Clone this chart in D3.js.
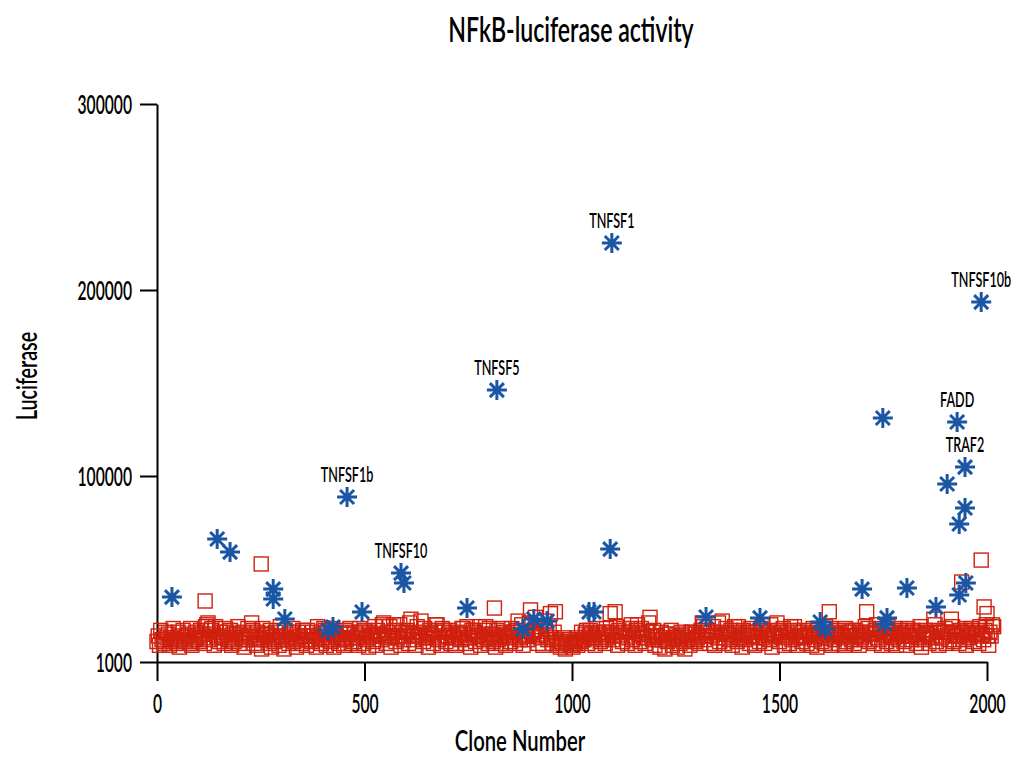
<!DOCTYPE html>
<html>
<head>
<meta charset="utf-8">
<script src="https://cdn.jsdelivr.net/npm/d3@7"></script>
<style>
  body { margin: 0; background: #fff; }
  text { font-family: Lato, "Open Sans", sans-serif; font-weight: 600; fill: #000; }
</style>
</head>
<body>
<div id="chart"></div>
<script>
// tick labels
var xTicks = [0, 500, 1000, 1500, 2000];
var yTicks = [0, 100000, 200000, 300000];
var yTickLabels = ["1000", "100000", "200000", "300000"];

// red squares: bulk of the screen, values in thousands, read every 6 clones
// lower pass at clones 0, 6, 12 ...
var redStep = 6;
var redValuesK = [
  11,9,12,10,13,9,11,12,10,8,12,11,14,10,9,12,13,11,15,10,
  20,12,18,9,14,11,13,10,16,12,9,11,15,10,13,8,12,14,21,10,
  9,13,7,12,15,10,8,11,14,9,12,7,13,10,16,11,8,12,10,14,
  9,12,11,14,8,13,10,18,9,12,11,8,14,10,13,9,12,15,10,11,
  13,9,16,10,12,8,14,11,9,15,12,21,10,13,8,20,11,14,9,12,
  16,10,23,12,9,14,22,11,13,8,15,10,20,12,9,17,11,14,10,13,
  9,15,12,18,10,13,8,17,11,14,9,12,19,10,13,11,8,12,10,14,
  9,13,11,16,10,22,12,9,14,12,28,15,24,10,13,9,18,12,26,10,
  27,9,8,10,7,11,9,8,10,9,11,12,15,10,17,13,9,16,11,14,
  10,13,26,12,27,9,14,11,16,10,18,12,9,20,11,15,10,13,24,12,
  9,14,8,12,7,11,15,9,13,8,10,14,7,12,9,16,11,13,10,21,
  12,16,10,14,9,13,11,22,10,15,12,9,19,11,13,8,12,16,10,14,
  9,13,11,20,10,15,12,8,14,21,11,13,9,16,10,12,19,9,14,11,
  13,10,15,9,12,8,14,11,10,13,27,9,12,15,10,14,9,11,16,12,
  10,14,9,13,12,27,11,15,10,20,12,9,14,11,16,10,13,9,12,15,
  11,9,14,12,16,10,13,8,12,15,10,14,23,11,9,13,16,10,12,23,
  11,14,10,16,12,9,13,18,11,15,10,14,12,20,9,14,19
];
// upper pass at clones 3, 9, 15 ...
var redValuesK2 = [
  14,17,12,16,15,13,18,12,16,14,17,13,15,18,12,16,14,17,13,19,
  21,17,15,19,13,16,14,18,12,17,15,13,19,14,16,12,18,15,17,13,
  16,12,18,14,15,17,13,16,12,19,14,17,12,15,18,13,16,14,17,12,
  17,14,16,12,19,15,13,17,16,12,18,15,13,16,12,17,15,18,13,16,
  14,18,15,17,13,16,14,19,17,15,20,14,16,19,14,17,13,20,16,14,
  17,21,15,14,19,16,13,18,15,17,14,16,20,13,18,16,14,17,15,13,
  16,14,18,15,19,13,17,16,14,19,15,17,13,18,15,14,17,13,18,16,
  15,14,18,16,17,13,20,15,14,21,16,17,14,19,15,22,14,18,13,16,
  12,10,11,13,10,12,9,11,13,12,16,12,17,14,15,13,18,15,12,16,
  18,15,16,14,19,17,15,18,13,16,20,14,17,15,18,13,16,21,14,17,
  14,12,16,13,15,12,17,13,14,12,16,11,15,13,16,12,15,14,17,19,
  14,17,16,19,15,21,16,13,18,15,17,14,16,19,13,17,15,14,18,16,
  16,14,18,17,13,16,20,15,14,17,16,18,14,15,19,17,13,16,14,17,
  14,16,15,18,14,17,13,16,19,15,18,16,14,17,15,13,18,16,14,17,
  17,15,16,14,19,18,16,15,17,13,18,15,16,19,14,16,18,15,17,14,
  16,18,14,17,15,16,19,14,17,15,16,13,20,17,16,14,18,16,15,19,
  16,14,17,15,18,16,14,17,15,16,19,15,17,14,16,20
];
// red squares standing above the bulk
var redHighClones = [116, 251, 813, 1939, 1986, 1993, 2000];
var redHighValues = [32800, 52700, 29000, 43000, 54800, 29600, 26000];

// blue asterisks
var blueClones = [36, 145, 176, 280, 280, 308, 412, 424, 458, 494,
  588, 595, 747, 819, 882, 908, 940, 1041, 1053, 1092,
  1096, 1323, 1453, 1598, 1610, 1699, 1749, 1759, 1754, 1807,
  1877, 1904, 1928, 1933, 1933, 1947, 1947, 1949, 1986];
var blueValues = [34900, 66100, 59100, 39200, 33900, 23100, 17200, 18800, 88700, 26900,
  47800, 42500, 29000, 146200, 17700, 23100, 22000, 26900, 26900, 60700,
  225300, 24200, 23700, 21500, 17700, 39200, 131200, 23700, 20400, 39800,
  29600, 95700, 129000, 74200, 36000, 104800, 82800, 42500, 193500];

// gene names and the asterisk they sit over
var labelNames = ["TNFSF1b", "TNFSF10", "TNFSF5", "TNFSF1", "TNFSF10b", "FADD", "TRAF2"];
var labelPoint = [8, 10, 13, 20, 38, 32, 35];

var svgWidth = 1018, svgHeight = 757;
var red = "#d0200e", blue = "#1a56a3";

var svg = d3.select("#chart").append("svg")
  .attr("width", svgWidth)
  .attr("height", svgHeight);

var x = d3.scaleLinear().domain([0, 2000]).range([157, 987]);
var y = d3.scaleLinear().domain([0, 300000]).range([662, 104]);

// narrow text helper
function addText(px, py, str, size, squeeze, rot) {
  return svg.append("text")
    .attr("transform", "translate(" + px + "," + py + ")" + (rot ? " rotate(" + rot + ")" : "") + " scale(" + squeeze + ",1)")
    .attr("text-anchor", "middle")
    .style("font-size", size + "px")
    .text(str);
}

// axes
var yAxis = d3.axisLeft(y).tickValues(yTicks).tickSize(17).tickSizeOuter(0)
  .tickFormat(function(d, i) { return yTickLabels[i]; });
var xAxis = d3.axisBottom(x).tickValues(xTicks).tickSize(19).tickSizeOuter(0)
  .tickFormat(d3.format("d"));

var gy = svg.append("g").attr("transform", "translate(157,0)").call(yAxis);
var gx = svg.append("g").attr("transform", "translate(0,662)").call(xAxis);

[gx, gy].forEach(function(g) {
  g.selectAll("path, line").attr("stroke", "#000").attr("stroke-width", 2);
  g.selectAll("text").attr("fill", "#000").style("font-size", "27px")
    .style("font-family", "Lato, 'Open Sans', sans-serif").style("font-weight", 600);
});
gy.selectAll("text").attr("x", 0).attr("dy", "0.36em")
  .attr("transform", "translate(-25,0) scale(0.58,1)");
gx.selectAll("text").attr("y", 0).attr("dy", 0)
  .attr("transform", "translate(0,51) scale(0.58,1)");

// red squares
var redData = redValuesK.map(function(v, i) { return { c: i * redStep, v: v * 1000 }; })
  .concat(redValuesK2.map(function(v, i) { return { c: i * redStep + 3, v: v * 1000 }; }))
  .sort(function(a, b) { return a.c - b.c; })
  .concat(redHighClones.map(function(c, i) { return { c: c, v: redHighValues[i] }; }));

svg.append("g").selectAll("rect")
  .data(redData)
  .enter()
  .append("rect")
  .attr("x", d => x(d.c) - 7)
  .attr("y", d => y(d.v) - 7)
  .attr("width", 14)
  .attr("height", 14)
  .attr("fill", "none")
  .attr("stroke", red)
  .attr("stroke-width", 1.4);

// blue asterisks
var star = "M-10,0H10M0,-10V10M-7,-7L7,7M-7,7L7,-7";
svg.append("g").selectAll("path")
  .data(blueClones)
  .enter()
  .append("path")
  .attr("transform", (d, i) => "translate(" + x(d) + "," + y(blueValues[i]) + ")")
  .attr("d", star)
  .attr("stroke", blue)
  .attr("stroke-width", 3)
  .attr("fill", "none");

// gene labels
labelNames.forEach(function(name, i) {
  var k = labelPoint[i];
  addText(x(blueClones[k]), y(blueValues[k]) - 15, name, 21, 0.6);
});

// titles
addText(571, 42, "NFkB-luciferase  activity", 35, 0.66);
addText(520, 751, "Clone Number", 29, 0.7);
addText(37, 376, "Luciferase", 29, 0.68, -90);
</script>
</body>
</html>
